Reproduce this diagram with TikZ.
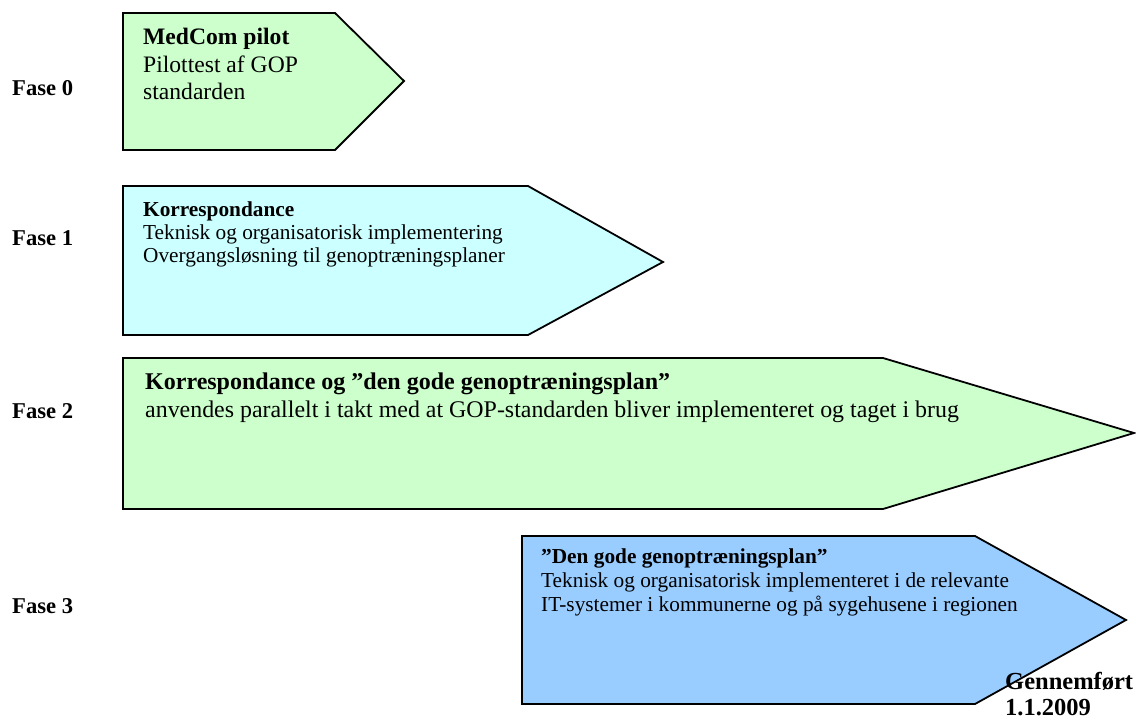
\documentclass[tikz,border=0pt]{standalone}
\usepackage{fontspec}
\setmainfont{Liberation Serif}
\definecolor{pgreen}{HTML}{CCFFCC}
\definecolor{pcyan}{HTML}{CCFFFF}
\definecolor{pblue}{HTML}{99CCFF}
\tikzset{
  phase/.style={draw=black, line width=1.8pt, line join=miter},
  lbl/.style={anchor=base west, inner sep=0pt, font=\fontsize{22.6}{26}\selectfont\bfseries},
  txt/.style={anchor=base west, inner sep=0pt},
}
\begin{document}
\begin{tikzpicture}[x=1pt,y=-1pt]
\useasboundingbox (0,0) rectangle (1136,720);
% shapes
\draw[phase, fill=pgreen] (123,13) -- (335,13) -- (404,81) -- (335,150) -- (123,150) -- cycle;
\draw[phase, fill=pcyan] (123,186) -- (528,186) -- (663,262) -- (528,335) -- (123,335) -- cycle;
\draw[phase, fill=pgreen] (123,358) -- (883,358) -- (1134,433) -- (883,509) -- (123,509) -- cycle;
\draw[phase, fill=pblue] (522,536) -- (975,536) -- (1126,620) -- (975,704) -- (522,704) -- cycle;
% labels
\node[lbl] (f0) at (12,95) {Fase 0};
\node[lbl] (f1) at (12,245) {Fase 1};
\node[lbl] (f2) at (12,418) {Fase 2};
\node[lbl] (f3) at (12,613) {Fase 3};
% Fase 0
\begin{scope}[every node/.append style={font=\fontsize{23.6}{27}\selectfont}]
\node[txt,font=\fontsize{23.6}{27}\selectfont\bfseries] (t0a) at (143,44) {MedCom pilot};
\node[txt] (t0b) at (143,72) {Pilottest af GOP};
\node[txt] (t0c) at (143,99) {standarden};
\end{scope}
% Fase 1
\begin{scope}[every node/.append style={font=\fontsize{21.3}{24}\selectfont}]
\node[txt,font=\fontsize{21.3}{24}\selectfont\bfseries] (t1a) at (143,216) {Korrespondance};
\node[txt] (t1b) at (143,239) {Teknisk og organisatorisk implementering};
\node[txt] (t1c) at (143,262) {Overgangsløsning til genoptræningsplaner};
\end{scope}
% Fase 2
\node[txt,font=\fontsize{24}{27}\selectfont\bfseries] (t2a) at (145,389) {Korrespondance og ”den gode genoptræningsplan”};
\node[txt,font=\fontsize{23.9}{27}\selectfont] (t2b) at (145,417) {anvendes parallelt i takt med at GOP-standarden bliver implementeret og taget i brug};
% Fase 3
\begin{scope}[every node/.append style={font=\fontsize{21.3}{24}\selectfont}]
\node[txt,font=\fontsize{21.3}{24}\selectfont\bfseries] (t3a) at (541,563) {”Den gode genoptræningsplan”};
\node[txt] (t3b) at (541,587) {Teknisk og organisatorisk implementeret i de relevante};
\node[txt] (t3c) at (541,611) {IT-systemer i kommunerne og på sygehusene i regionen};
\end{scope}
\node[txt,font=\fontsize{24.5}{28}\selectfont\bfseries] (g1) at (1005,689) {Gennemført};
\node[txt,font=\fontsize{24.5}{28}\selectfont\bfseries] (g2) at (1005,715) {1.1.2009};
\end{tikzpicture}
\end{document}
